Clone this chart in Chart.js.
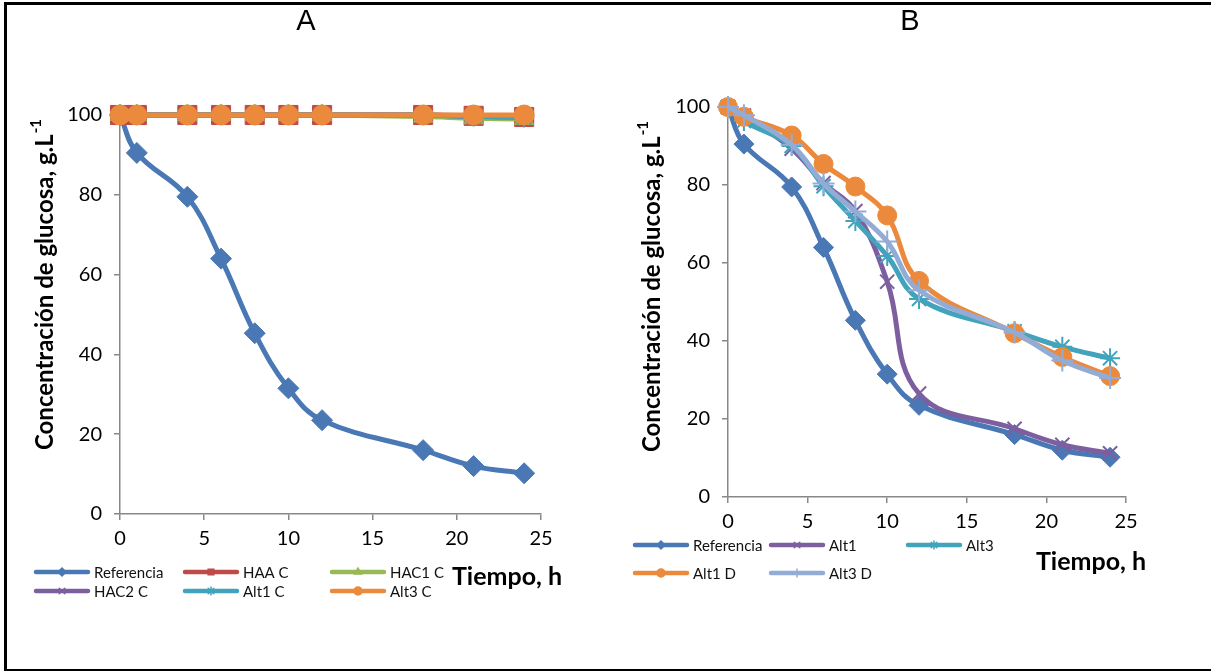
<!DOCTYPE html>
<html>
<head>
<meta charset="utf-8">
<script src="https://cdn.jsdelivr.net/npm/chart.js@4"></script>
<style>
  body { margin: 0; background: #fff; }
  #wrap { position: relative; width: 1211px; height: 671px; overflow: hidden; background: #fff; }
  #frame { position: absolute; left: 4px; top: 2px; width: 1300px; height: 664px;
           border-left: 3px solid #000; border-top: 3px solid #000; border-bottom: 3px solid #000; }
  canvas { position: absolute; top: 0; }
  #chartA { left: 0; }
  #chartB { left: 605px; }
</style>
</head>
<body>
<div id="wrap">
  <div id="frame"></div>
  <canvas id="chartA" width="605" height="671"></canvas>
  <canvas id="chartB" width="606" height="671"></canvas>
</div>
<script>
// time points, h
const hours = [0, 1, 4, 6, 8, 10, 12, 18, 21, 24];
const xTicks = [0, 5, 10, 15, 20, 25];
const yTicks = [0, 20, 40, 60, 80, 100];

// glucose, g/L
const referencia = [100, 90.5, 79.5, 64, 45.3, 31.5, 23.5, 16, 12, 10.2];
// panel A (controls)
const haaC  = [100, 100, 100, 100, 100, 100, 100, 100, 99.8, 99.5];
const hac1C = [100, 100, 100, 100, 100, 100, 100, 99.6, 99.2, 99];
const hac2C = [100, 100, 100, 100, 100, 100, 100, 100, 99.7, 99.5];
const alt1C = [100, 100, 100, 100, 100, 100, 100, 100, 99.6, 99.4];
const alt3C = [100, 100, 100, 100, 100, 100, 100, 100, 100, 100];
// panel B
const alt1  = [100, 97.8, 89.3, 80.5, 73.3, 55.2, 26.5, 17.5, 13.4, 11.2];
const alt3  = [100, 96.4, 90, 79.7, 70.8, 61.8, 50.8, 42.5, 38.5, 35.6];
const alt1D = [100, 97.5, 92.7, 85.4, 79.6, 72.2, 55.4, 42, 35.9, 31];
const alt3D = [100, 97.9, 90.3, 80.4, 73.2, 65.5, 53, 42.2, 35, 30.5];

const FONT = 'Lato, "Open Sans", sans-serif';

function pts(vals) {
  return hours.map((h, i) => ({ x: h, y: vals[i] }));
}

function series(label, vals, color, style, radius, bw) {
  return {
    label: label,
    data: pts(vals),
    borderColor: color,
    backgroundColor: color,
    borderWidth: 5,
    pointStyle: style,
    pointRadius: radius,
    pointHoverRadius: radius,
    pointBorderWidth: bw,
    pointBackgroundColor: color,
    pointBorderColor: color,
    tension: 0.4,
    clip: false
  };
}

// titles, axis titles and legend drawn on the canvas
const decor = {
  id: 'decor',
  afterDraw(chart, args, o) {
    const ctx = chart.ctx;
    ctx.save();
    ctx.fillStyle = '#000';
    ctx.textAlign = 'center';
    ctx.textBaseline = 'middle';
    ctx.font = '29px "Liberation Sans", Arial, sans-serif';
    ctx.fillText(o.title, o.titleX, 22);

    // x axis title
    ctx.font = 'bold 25px ' + FONT;
    ctx.fillText('Tiempo, h', o.xtX, o.xtY);

    // y axis title with superscript
    ctx.save();
    ctx.translate(o.ytX, o.ytY);
    ctx.rotate(-Math.PI / 2);
    const main = 'Concentración de glucosa, g.L';
    ctx.font = 'bold 24px ' + FONT;
    const w1 = ctx.measureText(main).width;
    ctx.font = 'bold 15px ' + FONT;
    const w2 = ctx.measureText('-1').width;
    const start = -(w1 + w2) / 2;
    ctx.textAlign = 'left';
    ctx.font = 'bold 24px ' + FONT;
    ctx.fillText(main, start, 0);
    ctx.font = 'bold 15px ' + FONT;
    ctx.fillText('-1', start + w1 + 1, -9);
    ctx.restore();

    // legend
    ctx.font = '15px ' + FONT;
    ctx.textAlign = 'left';
    chart.data.datasets.forEach((ds, i) => {
      const p = o.legend[i];
      ctx.strokeStyle = ds.borderColor;
      ctx.fillStyle = ds.borderColor;
      ctx.lineWidth = 4.5;
      ctx.lineCap = 'round';
      ctx.beginPath();
      ctx.moveTo(p[0] + 2, p[1]);
      ctx.lineTo(p[0] + 54, p[1]);
      ctx.stroke();
      ctx.lineWidth = 1.5;
      if (Chart.helpers && Chart.helpers.drawPoint) {
        Chart.helpers.drawPoint(ctx, { pointStyle: ds.pointStyle, radius: 4, rotation: 0, borderWidth: 1.5 }, p[0] + 28, p[1]);
      }
      ctx.fillStyle = '#111';
      ctx.fillText(ds.label, p[0] + 60, p[1] + 1);
    });
    ctx.restore();
  }
};

function scales() {
  const tickFont = { family: FONT, size: 20 };
  return {
    x: {
      type: 'linear', min: 0, max: 25,
      afterBuildTicks: s => { s.ticks = xTicks.map(v => ({ value: v })); },
      afterFit: s => { s.height = 40; },
      ticks: { color: '#000', font: tickFont, padding: 7, maxRotation: 0 },
      grid: { drawOnChartArea: false, drawTicks: true, tickLength: 6, color: '#888', lineWidth: 1.5 },
      border: { color: '#888', width: 1.5 }
    },
    y: {
      type: 'linear', min: 0, max: 100,
      afterBuildTicks: s => { s.ticks = yTicks.map(v => ({ value: v })); },
      afterFit: s => { s.width = 60; },
      ticks: { color: '#000', font: tickFont, padding: 12 },
      grid: { drawOnChartArea: false, drawTicks: true, tickLength: 6, color: '#888', lineWidth: 1.5 },
      border: { color: '#888', width: 1.5 }
    }
  };
}

function makeChart(id, datasets, pad, decorOpts) {
  // last series on top, as in the original
  datasets.forEach((d, i) => { d.order = datasets.length - i; });
  return new Chart(document.getElementById(id), {
    type: 'line',
    data: { datasets: datasets },
    options: {
      responsive: false,
      animation: false,
      layout: { padding: pad },
      plugins: { legend: { display: false }, tooltip: { enabled: false }, title: { display: false }, decor: decorOpts },
      scales: scales()
    },
    plugins: [decor]
  });
}

const blue = '#4A78B5', red = '#BE4B48', green = '#98B954', purple = '#7D5FA0',
      teal = '#42A3BC', orange = '#EB8A3C', lightBlue = '#93ACD6';

makeChart('chartA', [
  series('Referencia', referencia, blue, 'rectRot', 10.5, 1),
  series('HAA C', haaC, red, 'rect', 13.5, 1),
  series('HAC1 C', hac1C, green, 'triangle', 11, 1),
  series('HAC2 C', hac2C, purple, 'crossRot', 10, 2),
  series('Alt1 C', alt1C, teal, 'star', 10, 2),
  series('Alt3 C', alt3C, orange, 'circle', 10, 1)
], { left: 60, top: 115, right: 64, bottom: 117 }, {
  title: 'A', titleX: 306,
  xtX: 507, xtY: 577,
  ytX: 45, ytY: 285,
  legend: [[34, 572], [183, 572], [330, 572], [34, 591], [183, 591], [330, 591]]
});

makeChart('chartB', [
  series('Referencia', referencia, blue, 'rectRot', 10, 1),
  series('Alt1', alt1, purple, 'crossRot', 10, 2),
  series('Alt3', alt3, teal, 'star', 10, 2),
  series('Alt1 D', alt1D, orange, 'circle', 9.5, 1),
  series('Alt3 D', alt3D, lightBlue, 'cross', 11, 2)
], { left: 63, top: 107, right: 85, bottom: 134 }, {
  title: 'B', titleX: 305,
  xtX: 486, xtY: 562,
  ytX: 47, ytY: 287,
  legend: [[28, 545], [164, 545], [301, 545], [28, 573], [164, 573]]
});
</script>
</body>
</html>
